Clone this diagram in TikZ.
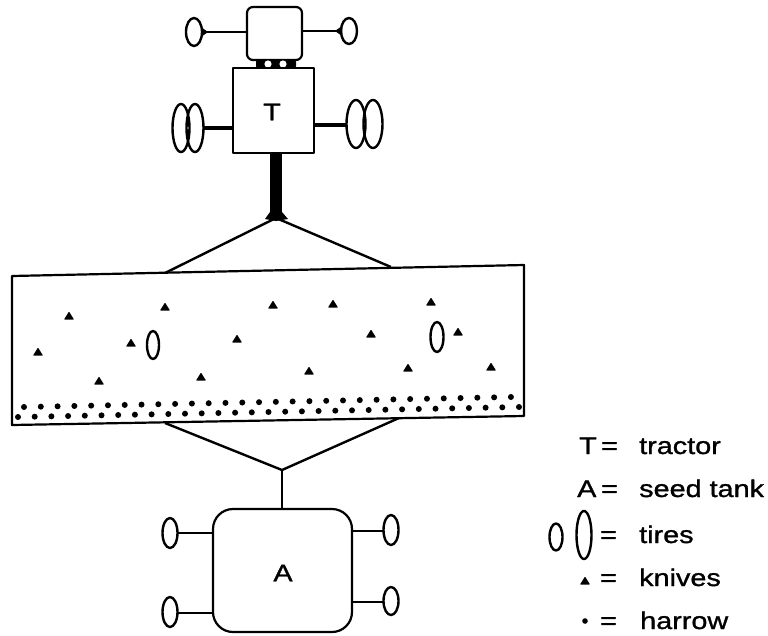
\documentclass[tikz,border=0pt]{standalone}
\usepackage{fontspec}
\setmainfont{Liberation Sans}
\newfontfamily\legendfont[FakeStretch=1.2,FakeBold=1.2]{Liberation Sans}
\begin{document}
\begin{tikzpicture}[x=1pt,y=-1pt,line join=round,
  outline/.style={line width=2.2pt},
  tirering/.style={line width=2.4pt},
  axle/.style={line width=2pt},
  heavyaxle/.style={line width=3.6pt},
  hitchline/.style={line width=2.4pt},
  lbl/.style={font=\legendfont\fontsize{24}{24}\selectfont},
  legend/.style={font=\legendfont\fontsize{24}{24}\selectfont,anchor=base west,inner sep=0pt},
  knife/.pic={\fill[rounded corners=0.6pt] (-5,3.5) -- (0,-4.5) -- (5,3.5) -- cycle;}]
\useasboundingbox (0,0) rectangle (768,635);

% ---------------- tractor ----------------
% front steering unit
\draw[outline,rounded corners=6pt] (247,7) rectangle (302,60);
\draw[tirering] (194,32) ellipse [x radius=8pt,y radius=14pt];
\draw[tirering] (349,31) ellipse [x radius=8pt,y radius=13pt];
\draw[axle] (202,32) -- (247,32);
\draw[axle] (302,31) -- (341,31);
\fill (201,27) -- (208,32) -- (201,37) -- cycle;
\fill (342,26) -- (335,31) -- (342,36) -- cycle;
% pivot joint
\fill[rounded corners=3pt] (256,59) rectangle (296,69);
\fill[white] (268,64) circle (3.6pt);
\fill[white] (283,64) circle (3.6pt);
% tractor body
\draw[outline,fill=white] (233,68) rectangle (314,153);
\node[lbl] (tractorlbl) at (272,112) {T};
% dual rear tires
\draw[tirering] (181,128) ellipse [x radius=8.5pt,y radius=24pt];
\draw[tirering] (195,128) ellipse [x radius=8.5pt,y radius=24pt];
\draw[tirering] (356,124) ellipse [x radius=9.5pt,y radius=24pt];
\draw[tirering] (373,124) ellipse [x radius=9.5pt,y radius=24pt];
\draw[heavyaxle] (203,128) -- (233,128);
\draw[heavyaxle] (314,125) -- (346,125);
% drawbar and hitch
\fill (270,153) rectangle (282,214);
\fill (265,219) -- (270,212) -- (282,212) -- (288,219) -- (276,221) -- cycle;
\coordinate (hitch) at (276,218);

% ---------------- implement ----------------
\coordinate (boxTL) at (12,276);
\coordinate (boxTR) at (524,265);
\coordinate (boxBR) at (524,416);
\coordinate (boxBL) at (12,425);
\coordinate (frontL) at (165,273);
\coordinate (frontR) at (391,267);
\draw[hitchline] (frontL) -- (hitch) -- (frontR);
\draw[outline,fill=white] (boxTL) -- (boxTR) -- (boxBR) -- (boxBL) -- cycle;

% knives
\foreach \kx/\ky in {38/352,69/316,99/381,131/343,165/307,201/377,237/339,
  273/305,309/371,333/304,371/334,408/368,431/302,458/332,491/367}
  \path (\kx,\ky) pic {knife};
% implement tires
\draw[tirering] (153,345) ellipse [x radius=6pt,y radius=14pt];
\draw[tirering] (437,337) ellipse [x radius=6.5pt,y radius=15pt];
% harrow, two staggered rows
\foreach \i in {0,...,29}
  \fill ({24+\i*16.79},{407-\i*0.345}) circle (3pt);
\foreach \i in {0,...,30}
  \fill ({18+\i*16.7},{417-\i*0.333}) circle (3pt);

% ---------------- seed tank ----------------
\coordinate (rearL) at (165,423);
\coordinate (rearR) at (399,418);
\coordinate (tankhitch) at (282,470);
\draw[hitchline] (rearL) -- (tankhitch) -- (rearR);
\draw[outline] (tankhitch) -- (282,509);
\draw[outline,rounded corners=20pt] (213,509) rectangle (352,632);
\node[lbl] (tanklbl) at (283,573) {A};
\draw[axle] (178,533) -- (213,533);
\draw[axle] (178,613) -- (213,613);
\draw[axle] (352,531) -- (383,531);
\draw[axle] (352,602) -- (383,602);
\draw[tirering] (170,533) ellipse [x radius=7.5pt,y radius=15pt];
\draw[tirering] (170,612) ellipse [x radius=7.5pt,y radius=15pt];
\draw[tirering] (391,530) ellipse [x radius=7.5pt,y radius=15pt];
\draw[tirering] (391,601) ellipse [x radius=7.5pt,y radius=14pt];

% ---------------- legend ----------------
\node[legend] (keyT) at (579,454) {T};
\node[legend] (eqT) at (601,454) {=};
\node[legend] (txtT) at (639,454) {tractor};
\node[legend] (keyA) at (577,497) {A};
\node[legend] (eqA) at (601,497) {=};
\node[legend] (txtA) at (639,497) {seed tank};
\draw[tirering] (556,537) ellipse [x radius=6.5pt,y radius=13.5pt];
\draw[tirering] (584,535) ellipse [x radius=7.5pt,y radius=24pt];
\node[legend] (eqtire) at (600,543) {=};
\node[legend] (txttire) at (639,543) {tires};
\path (585,581) pic {knife};
\node[legend] (eqknife) at (600,586) {=};
\node[legend] (txtknife) at (639,586) {knives};
\fill (585,621) circle (2.8pt);
\node[legend] (eqharrow) at (600,629) {=};
\node[legend] (txtharrow) at (640,629) {harrow};
\end{tikzpicture}
\end{document}
